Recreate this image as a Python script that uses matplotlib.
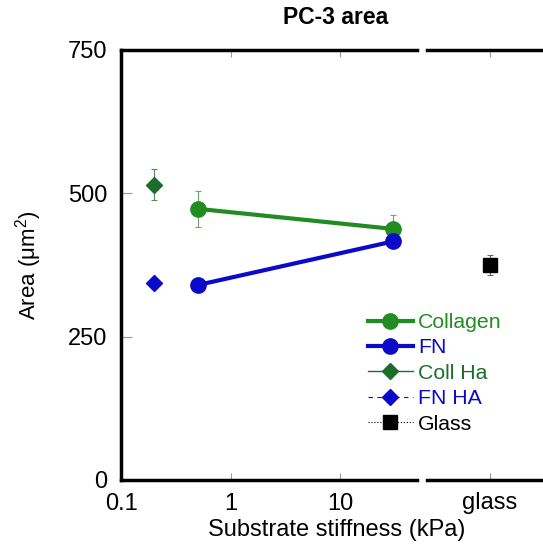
import matplotlib
matplotlib.use("Agg")
import matplotlib.pyplot as plt
from matplotlib.ticker import FixedLocator, NullLocator

plt.rcParams['font.family'] = ['Liberation Sans', 'DejaVu Sans']

# Data
coll_x = [0.5, 30]
coll_y = [473, 438]
coll_err = [31, 24]
fn_x = [0.5, 30]
fn_y = [340, 416]
fn_err = [12, 10]
collha_x = [0.2]
collha_y = [515]
collha_err = [27]
fnha_x = [0.2]
fnha_y = [344]
fnha_err = [8]
glass_x = [1]
glass_y = [375]
glass_err = [18]

y_ticks = [0, 250, 500, 750]
x_ticks = [0.1, 1, 10]
x_ticklabels = ["0.1", "1", "10"]

GREEN = "#228b22"
DKGREEN = "#1b6e2a"
BLUE = "#0a0ac8"

W, H = 543, 548
fig = plt.figure(figsize=(W/100, H/100), dpi=100)

def ax_rect(x0, x1, ytop, ybot):
    return [x0/W, 1 - ybot/H, (x1-x0)/W, (ybot-ytop)/H]

ax1 = fig.add_axes(ax_rect(121, 417, 50, 480))
ax2 = fig.add_axes(ax_rect(427, 543, 50, 480))

for ax in (ax1, ax2):
    ax.set_ylim(0, 750)
    for s in ('top', 'bottom'):
        ax.spines[s].set_linewidth(2.5)
    ax.spines['right'].set_visible(False)
    ax.tick_params(direction='in', color='#999999', width=0.8, length=5,
                   top=True, bottom=True, labelsize=17, pad=9)

ax2.spines['left'].set_visible(False)
ax1.spines['left'].set_linewidth(2.5)

ax1.set_xscale('log')
ax1.set_xlim(0.1, 50)
ax1.xaxis.set_major_locator(FixedLocator(x_ticks))
ax1.set_xticklabels(x_ticklabels)
ax1.xaxis.set_minor_locator(NullLocator())
ax1.set_yticks(y_ticks)
ax1.tick_params(axis='y', length=8, pad=10)

ax2.set_xlim(0, 1.84)
ax2.set_xticks(glass_x)
ax2.set_xticklabels(["glass"])
ax2.set_yticks([])

ebk = dict(elinewidth=0.8, capsize=2.5, capthick=0.8)
h1 = ax1.errorbar(coll_x, coll_y, yerr=coll_err, color=GREEN, lw=3, marker='o',
                  ms=11, label='Collagen', ecolor='#6aa86a', **ebk)
h2 = ax1.errorbar(fn_x, fn_y, yerr=fn_err, color=BLUE, lw=3, marker='o',
                  ms=11, label='FN', ecolor='#6a6ad0', **ebk)
h3 = ax1.errorbar(collha_x, collha_y, yerr=collha_err, color=DKGREEN, lw=1, marker='D',
                  ms=8, label='Coll Ha', ecolor='#5a8a5a', **ebk)
h4 = ax1.errorbar(fnha_x, fnha_y, yerr=fnha_err, color=BLUE, lw=0.8, ls=(0, (4, 4)),
                  marker='D', ms=8, label='FN HA', ecolor='#6a6ad0', **ebk)
h5 = ax2.errorbar(glass_x, glass_y, yerr=glass_err, color='black', lw=0.8, ls=':',
                  marker='s', ms=10, label='Glass', ecolor='#666666', **ebk)

handles = [h1[0], h2[0], h3[0], h4[0], h5[0]]
labels = ['Collagen', 'FN', 'Coll Ha', 'FN HA', 'Glass']
leg = fig.legend(handles, labels, loc='upper left',
                 bbox_to_anchor=(368/W, 1 - 313/H), frameon=False, fontsize=15.3,
                 handlelength=2.1, handletextpad=0.25, labelspacing=0.3,
                 borderpad=0, borderaxespad=0)
for t, c in zip(leg.get_texts(), [GREEN, BLUE, DKGREEN, BLUE, 'black']):
    t.set_color(c)

fig.text(336/W, 1 - 18/H, "PC-3 area", ha='center', va='center',
         fontsize=16.5, fontweight='bold')
fig.text(337/W, 1 - 530/H, "Substrate stiffness (kPa)", ha='center', va='center',
         fontsize=17)
fig.text(29/W, 1 - 265/H, r"Area ($\mathregular{\mu m^2}$)", ha='center', va='center',
         fontsize=16, rotation=90)

fig.savefig("out.png", dpi=100)
